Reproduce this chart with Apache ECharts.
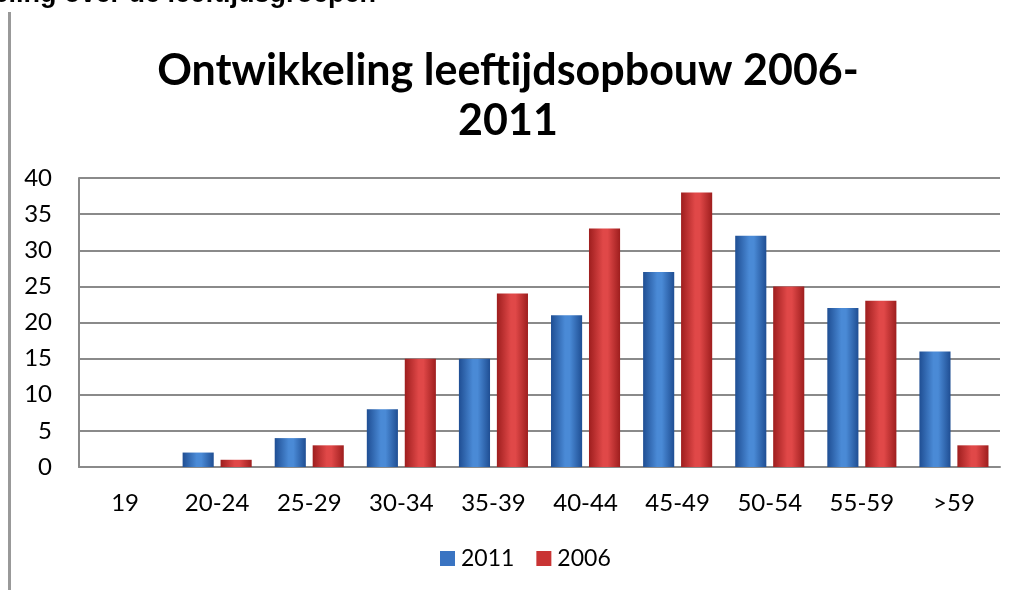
<!DOCTYPE html>
<html>
<head>
<meta charset="utf-8">
<script src="https://cdn.jsdelivr.net/npm/echarts@6/dist/echarts.min.js"></script>
<style>
html,body{margin:0;padding:0;background:#fff;}
#c{width:1016px;height:590px;}
</style>
</head>
<body>
<div id="c"></div>
<script>
var categories = ['19','20-24','25-29','30-34','35-39','40-44','45-49','50-54','55-59','>59'];
var values2011 = [0, 2, 4, 8, 15, 21, 27, 32, 22, 16];
var values2006 = [0, 1, 3, 15, 24, 33, 38, 25, 23, 3];
var seriesNames = ['2011', '2006'];
var titleText = 'Ontwikkeling leeftijdsopbouw 2006-\n2011';
var topText = 'eling over de leeftijdsgroepen';

function grad(edge, mid) {
  return new echarts.graphic.LinearGradient(0, 0, 1, 0, [
    {offset: 0, color: edge},
    {offset: 0.45, color: mid},
    {offset: 0.6, color: mid},
    {offset: 1, color: edge}
  ]);
}

var chart = echarts.init(document.getElementById('c'), null, {renderer: 'canvas'});
var labelFont = 'Lato, "Open Sans", sans-serif';
chart.setOption({
  animation: false,
  backgroundColor: '#ffffff',
  title: [
    {
      text: titleText,
      left: 'center',
      top: 41,
      textStyle: {fontFamily: labelFont, fontWeight: 'bold', fontSize: 43, lineHeight: 50, color: '#000'}
    },
    {
      text: topText,
      right: 640,
      top: -19,
      padding: 0,
      textStyle: {fontFamily: '"Liberation Sans", Arial, sans-serif', fontWeight: 'bold', fontSize: 27, lineHeight: 28, color: '#000'}
    }
  ],
  graphic: [
    {type: 'rect', shape: {x: 8, y: 12, width: 3, height: 590}, style: {fill: '#999999'}}
  ],
  legend: {
    data: [
      {name: seriesNames[0], itemStyle: {color: '#3a74c2'}},
      {name: seriesNames[1], itemStyle: {color: '#c93434'}}
    ],
    bottom: 15,
    left: 435,
    icon: 'rect',
    itemWidth: 15,
    itemHeight: 15,
    itemGap: 22,
    textStyle: {fontFamily: labelFont, fontSize: 23, color: '#000', padding: [0, 0, 0, 1]}
  },
  grid: {left: 79, right: 16, top: 178, bottom: 123, containLabel: false},
  xAxis: {
    type: 'category',
    data: categories,
    axisLine: {show: true, lineStyle: {color: '#8a8a8a', width: 2}},
    axisTick: {show: false},
    axisLabel: {fontFamily: labelFont, fontSize: 24, color: '#000', margin: 24}
  },
  yAxis: {
    type: 'value',
    min: 0,
    max: 40,
    interval: 5,
    axisLine: {show: true, lineStyle: {color: '#8a8a8a', width: 2}},
    axisTick: {show: false},
    splitLine: {show: true, lineStyle: {color: '#8a8a8a', width: 2}},
    axisLabel: {fontFamily: labelFont, fontSize: 24, color: '#000', margin: 27}
  },
  series: [
    {
      name: seriesNames[0],
      type: 'bar',
      data: values2011,
      barGap: '22%',
      barCategoryGap: '25%',
      itemStyle: {color: grad('#1f4e93', '#4a8ad6')}
    },
    {
      name: seriesNames[1],
      type: 'bar',
      data: values2006,
      barGap: '22%',
      barCategoryGap: '25%',
      itemStyle: {color: grad('#9e1e1e', '#e04848')}
    }
  ]
});
</script>
</body>
</html>
